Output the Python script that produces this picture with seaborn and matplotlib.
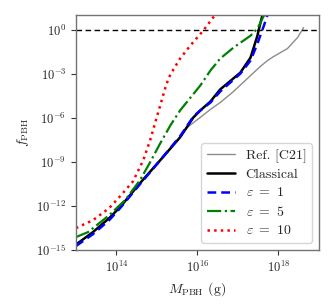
import numpy as np
import pandas as pd
import seaborn as sns
import matplotlib.pyplot as plt
from matplotlib.ticker import LogLocator, NullLocator

# values (log10 of mass in g, log10 of f_PBH)
ref_logM = [15.08, 15.57, 15.75, 16.07, 16.32, 16.56, 16.89, 17.23, 17.55, 17.73, 17.88, 18.22, 18.47, 18.62]
ref_logf = [-8.89, -7.33, -6.65, -5.97, -5.43, -4.96, -4.21, -3.33, -2.51, -2.10, -1.83, -1.29, -0.54, 0.14]

cl_logM = [13.00, 13.42, 13.82, 14.09, 14.58, 15.08, 15.57, 15.90, 16.07, 16.32, 16.56, 17.06, 17.31, 17.38, 17.48, 17.52, 17.60, 17.66]
cl_logf = [-14.63, -13.78, -12.83, -12.08, -10.45, -8.89, -7.33, -5.97, -5.50, -4.89, -4.07, -2.92, -1.90, -1.29, -0.41, 0.07, 0.95, 1.4]

e1_logM = [13.00, 13.42, 13.82, 14.09, 14.58, 15.08, 15.57, 15.90, 16.07, 16.32, 16.56, 17.06, 17.31, 17.39, 17.48, 17.55, 17.64, 17.72, 17.78]
e1_logf = [-14.73, -13.92, -12.97, -12.15, -10.52, -8.89, -7.26, -5.91, -5.50, -4.96, -4.21, -2.99, -2.10, -1.56, -0.95, -0.41, 0.27, 0.95, 1.4]

e5_logM = [13.00, 13.30, 13.82, 14.21, 14.58, 14.83, 15.08, 15.33, 15.57, 15.77, 16.07, 16.32, 16.56, 16.89, 17.31, 17.48, 17.64, 17.70]
e5_logf = [-14.12, -13.78, -12.63, -11.61, -10.25, -9.03, -7.74, -6.52, -5.50, -4.82, -3.80, -2.78, -1.97, -1.22, -0.41, 0.07, 0.95, 1.3]

e10_logM = [13.00, 13.42, 13.82, 14.09, 14.41, 14.66, 14.83, 15.00, 15.13, 15.23, 15.33, 15.57, 15.82, 16.14, 16.42, 16.50]
e10_logf = [-13.51, -12.97, -12.15, -11.34, -10.32, -8.89, -7.54, -5.91, -4.68, -3.73, -3.05, -1.97, -1.09, -0.07, 0.95, 1.3]

sns.set_style("ticks")
plt.rcParams['font.family'] = 'serif'
plt.rcParams['font.serif'] = ['cmr10', 'DejaVu Serif']
plt.rcParams['mathtext.fontset'] = 'cm'
plt.rcParams['axes.formatter.use_mathtext'] = True
plt.rcParams['axes.unicode_minus'] = False
plt.rcParams['font.size'] = 9

fig = plt.figure(figsize=(3.34, 3.07), dpi=100)
ax = fig.add_axes([0.2275, 0.1857, 0.7275, 0.7655])

def curve(logM, logf, **kw):
    sns.lineplot(x=10.0 ** np.array(logM), y=10.0 ** np.array(logf), ax=ax,
                 sort=False, estimator=None, **kw)

curve(ref_logM, ref_logf, color='0.55', lw=1.0, label='Ref. [C21]')
curve(cl_logM, cl_logf, color='k', lw=1.8, label='Classical')
curve(e1_logM, e1_logf, color='b', lw=1.8, ls=(0, (3.5, 2)), label=r'$\varepsilon\ =\ 1$')
curve(e5_logM, e5_logf, color='g', lw=1.6, ls='-.', label=r'$\varepsilon\ =\ 5$')
curve(e10_logM, e10_logf, color='r', lw=1.8, ls=':', label=r'$\varepsilon\ =\ 10$')

ax.axhline(1.0, color='k', lw=1.0, ls=(0, (4, 2.5)))

ax.set_xscale('log')
ax.set_yscale('log')
ax.set_xlim(1e13, 1e19)
ax.set_ylim(1e-15, 10)
ax.xaxis.set_major_locator(LogLocator(base=100.0, numticks=10))
ax.yaxis.set_major_locator(LogLocator(base=1000.0, numticks=10))
ax.xaxis.set_minor_locator(NullLocator())
ax.yaxis.set_minor_locator(NullLocator())
ax.tick_params(labelsize=9, length=3.5, width=0.8, color='0.2')
for sp in ax.spines.values():
    sp.set_color('0.45')
    sp.set_linewidth(1.0)

ax.set_xlabel(r'$M_{\rm PBH}$ (g)', fontsize=10)
ax.set_ylabel(r'$f_{\rm PBH}$', fontsize=10)
ax.legend(loc='lower right', fontsize=10, handlelength=2.0, borderaxespad=0.5, labelspacing=0.4)

fig.savefig('out.png', dpi=100)
